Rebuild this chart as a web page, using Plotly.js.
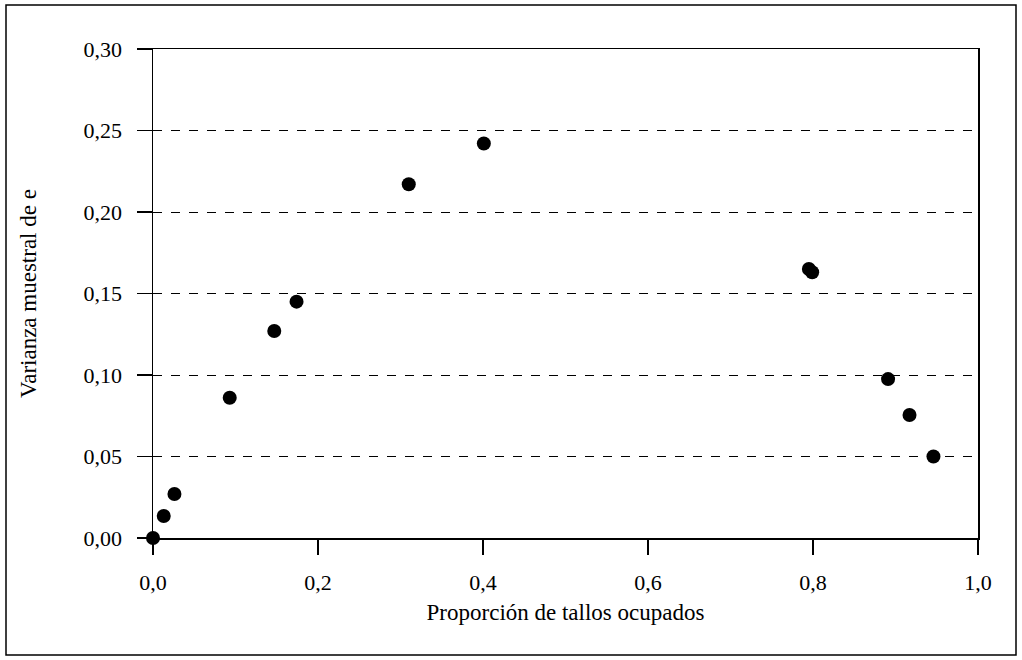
<!DOCTYPE html>
<html>
<head>
<meta charset="utf-8">
<script src="https://cdn.plot.ly/plotly-3.0.1.min.js"></script>
<style>
  html, body { margin: 0; padding: 0; background: #fff; }
  #chart { width: 1022px; height: 660px; }
</style>
</head>
<body>
<div id="chart"></div>
<script>
// Data
const proporcionTallos = [0.000, 0.013, 0.026, 0.093, 0.147, 0.174, 0.310, 0.401, 0.795, 0.799, 0.891, 0.917, 0.946];
const varianzaMuestral = [0.000, 0.0135, 0.027, 0.086, 0.127, 0.145, 0.217, 0.242, 0.165, 0.163, 0.0975, 0.0755, 0.050];
const xTicks = [0, 0.2, 0.4, 0.6, 0.8, 1.0];
const yTicks = [0, 0.05, 0.10, 0.15, 0.20, 0.25, 0.30];
const xTitle = "Proporción de tallos ocupados";
const yTitle = "Varianza muestral de e";

const fontFam = "Liberation Serif, Times New Roman, serif";

const trace = {
  x: proporcionTallos,
  y: varianzaMuestral,
  type: "scatter",
  mode: "markers",
  marker: { color: "#000", size: 14 },
  cliponaxis: false,
  hoverinfo: "x+y"
};

const W = 1022, H = 660, L = 153, R = 44, T = 49, B = 122;
const pw = W - L - R, ph = H - T - B;
function px2x(p) { return (p - L) / pw; }
function py2y(p) { return (H - B - p) / ph; }

const layout = {
  width: W, height: H,
  margin: { l: L, r: R, t: T, b: B, pad: 0 },
  paper_bgcolor: "#fff",
  plot_bgcolor: "#fff",
  separators: ",.",
  showlegend: false,
  font: { family: fontFam, color: "#000", size: 22 },
  xaxis: {
    range: [0, 1.0],
    tickvals: xTicks,
    tickformat: ".1f",
    ticks: "outside",
    ticklen: 15,
    tickwidth: 1.5,
    tickcolor: "#000",
    showline: true,
    linecolor: "#000",
    linewidth: 1.5,
    mirror: true,
    showgrid: false,
    zeroline: false,
    ticklabelstandoff: 9,
    tickfont: { family: fontFam, size: 22, color: "#000" },
    title: { text: xTitle, font: { family: fontFam, size: 23, color: "#000" }, standoff: 10 }
  },
  yaxis: {
    range: [0, 0.30],
    tickvals: yTicks,
    tickformat: ".2f",
    ticks: "outside",
    ticklen: 15,
    tickwidth: 1.5,
    tickcolor: "#000",
    showline: true,
    linecolor: "#000",
    linewidth: 1.5,
    mirror: true,
    showgrid: true,
    gridcolor: "#000",
    gridwidth: 1,
    griddash: "dash",
    zeroline: false,
    ticklabelstandoff: 10,
    tickfont: { family: fontFam, size: 22, color: "#000" },
    title: { text: yTitle, font: { family: fontFam, size: 23, color: "#000" }, standoff: 40 }
  },
  shapes: [
    {
      type: "rect", xref: "paper", yref: "paper",
      x0: px2x(6), x1: px2x(1016), y0: py2y(655), y1: py2y(5),
      line: { color: "#000", width: 1.5 }, fillcolor: "rgba(0,0,0,0)", layer: "below"
    }
  ]
};

Plotly.newPlot("chart", [trace], layout, { displayModeBar: false, staticPlot: true });
</script>
</body>
</html>
